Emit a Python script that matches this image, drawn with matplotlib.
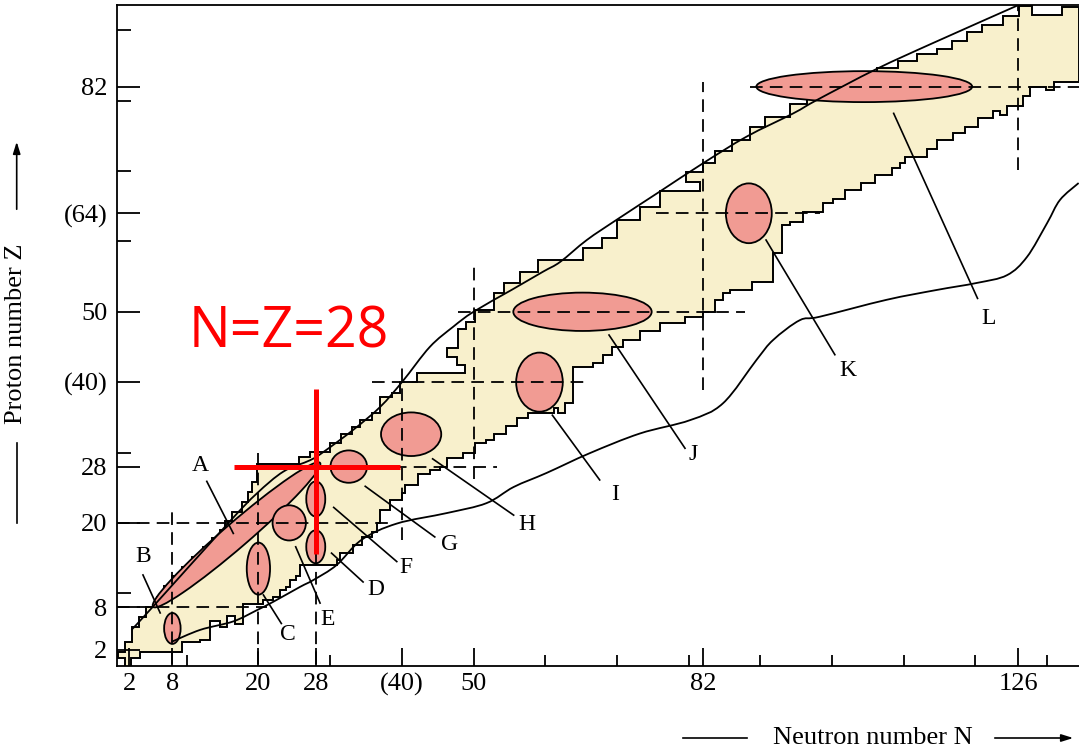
import numpy as np
import matplotlib
matplotlib.use('Agg')
import matplotlib.pyplot as plt
from matplotlib.patches import Ellipse, Polygon, PathPatch
from matplotlib.path import Path
from matplotlib.lines import Line2D

plt.rcParams['font.family'] = ['Liberation Serif', 'DejaVu Serif']

# magic numbers on the axes
x_ticks = [2, 8, 20, 28, 40, 50, 82, 126]
x_tick_labels = ['2', '8', '20', '28', '(40)', '50', '82', '126']
y_ticks = [2, 8, 20, 28, 40, 50, 64, 82]
y_tick_labels = ['2', '8', '20', '28', '(40)', '50', '(64)', '82']

# band of known nuclei: riser position N and tread height Z of each step
upper_n = [0.4, 1.4, 2.4, 3.3, 4.3, 5.8, 6.8, 7.9, 9.3, 10.8, 12.3, 13.5, 14.6, 15.4,
           16.3, 17.7, 18.5, 19.1, 19.8, 25.6, 27.2, 30.0, 31.5, 33.0, 34.2, 35.8, 37.0,
           38.7, 39.8, 42.1, 48.8, 47.7, 46.3, 47.9, 48.9, 50.2, 52.8, 54.2, 56.5, 59.0,
           65.3, 67.9, 70.0, 73.2, 76.0, 81.6, 79.6, 82.0, 83.7, 86.0, 88.6, 90.7, 94.1,
           96.5, 99.0, 101.5, 104.0, 106.3, 109.2, 111.8, 114.6, 116.7, 118.8, 120.9,
           123.9, 126.1, 127.9, 132.1]
upper_z = [1.7, 3.0, 5.2, 6.6, 8.0, 9.5, 11.0, 12.4, 13.8, 15.2, 16.6, 17.8, 19.0, 20.3,
           21.6, 23.0, 24.4, 25.8, 28.4, 29.3, 30.1, 31.3, 32.7, 33.6, 34.6, 35.6, 37.9,
           38.5, 40.0, 41.3, 42.5, 43.6, 44.8, 47.6, 48.6, 50.3, 52.6, 54.1, 55.7, 57.3,
           59.0, 60.5, 63.1, 64.9, 67.1, 68.5, 69.9, 71.1, 72.8, 74.4, 76.3, 77.7, 79.6,
           80.8, 82.0, 83.0, 83.6, 84.6, 85.7, 86.6, 87.4, 88.5, 89.7, 90.8,
           92.1, 93.4, 92.2, 93.3]
lower_n = [0.4, 1.4, 2.3, 3.5, 9.3, 11.9, 13.2, 14.6, 15.6, 16.7, 17.9, 20.7, 22.1, 23.0,
           23.9, 24.4, 25.3, 25.8, 30.9, 31.4, 33.2, 34.4, 35.8, 36.5, 37.0, 38.4, 40.0,
           40.4, 42.2, 43.9, 45.3, 46.3, 48.6, 50.2, 51.8, 52.8, 54.6, 56.0, 57.6, 61.2,
           61.8, 62.8, 63.9, 66.7, 68.1, 69.3, 70.9, 73.2, 76.0, 79.5, 82.0, 83.7, 84.8,
           85.8, 88.8, 91.8, 93.0, 94.1, 96.0, 98.8, 100.2, 101.8, 104.1, 106.0, 108.3,
           109.5, 110.2, 113.2, 114.6, 116.9, 118.5, 120.4, 122.5, 123.4, 124.4, 126.7,
           127.6, 129.9, 130.9]
lower_z = [0.75, -0.5, 0.75, 1.6, 3.1, 3.4, 6.0, 5.2, 6.7, 5.7, 8.5, 9.0, 9.5, 10.5,
           10.9, 11.9, 12.4, 14.0, 14.7, 15.7, 16.9, 18.0, 18.7, 20.0, 21.8, 23.3, 24.2,
           25.4, 27.0, 27.5, 28.0, 29.2, 29.9, 31.3, 31.8, 32.7, 33.7, 34.9, 35.6, 36.3,
           35.6, 37.0, 42.2, 42.7, 43.9, 45.0, 46.0, 47.2, 48.4, 49.3, 50.0, 51.7, 52.6,
           53.1, 54.3, 58.3, 62.3, 62.8, 64.2, 65.5, 66.1, 67.3, 68.3, 69.5, 70.4,
           71.1, 72.0, 73.2, 74.4, 75.4, 76.3, 77.5, 78.5, 78.0, 79.3, 80.6,
           82.0, 81.5, 82.6]

# drip lines
pdrip_n = [2.3, 5.3, 16.0, 19.8, 23.5, 27.2, 29.1, 33.2, 37.0, 40.1, 43.9, 47.2, 50.0,
           55.3, 59.7, 62.1, 65.8, 70.0, 76.0, 82.0, 88.1, 94.6, 97.9, 106.2, 114.1, 125.8]
pdrip_z = [4.8, 8.1, 20.2, 24.2, 27.3, 28.9, 30.1, 33.2, 36.5, 40.1, 45.0, 47.9, 50.0,
           53.1, 55.7, 57.1, 60.2, 63.1, 67.1, 71.1, 74.9, 78.2, 80.1, 84.5, 88.2, 93.5]
ndrip_n = [7.9, 11.9, 16.5, 19.8, 22.1, 25.8, 27.7, 30.9, 34.4, 39.3, 46.3, 51.8, 55.6,
           60.2, 66.2, 73.2, 80.2, 84.8, 89.5, 91.8, 95.5, 98.3, 107.6, 114.6, 120.2,
           124.4, 127.2, 130.0, 131.8, 134.4]
ndrip_z = [3.1, 4.8, 6.0, 7.6, 8.8, 10.9, 11.9, 14.0, 17.6, 19.9, 21.4, 22.8, 25.1,
           27.1, 29.9, 32.7, 34.6, 37.0, 43.2, 46.0, 48.8, 49.3, 51.7, 53.1, 54.1,
           55.2, 57.8, 62.6, 65.9, 68.3]

# marked regions
reg_names = ['A', 'B', 'C', 'D', 'E', 'F', 'G', 'H', 'I', 'J', 'K', 'L']
reg_n = [16.95, 8, 20, 28, 24.3, 28, 32.6, 41.3, 59.2, 65.2, 88.4, 104.5]
reg_z = [18.3, 5.0, 13.5, 16.6, 20, 23.4, 28, 32.6, 40, 50, 64, 82]
reg_w = [31.0, 2.3, 3.25, 2.65, 4.65, 2.65, 5.1, 8.4, 6.5, 19.3, 6.4, 30.1]
reg_h = [3.5, 4.4, 7.4, 4.7, 5.0, 5.0, 4.6, 6.2, 8.4, 5.45, 8.5, 4.4]
reg_angle = [41.3, 0, 0, 0, 0, 0, 0, 0, 0, 0, 0, 0]

# letter positions and leader lines
lab_n = [11.9, 3.9, 24.1, 36.4, 29.7, 40.6, 46.7, 57.5, 69.7, 80.6, 102.2, 121.8]
lab_z = [28.2, 15.2, 4.2, 10.5, 6.2, 13.7, 16.9, 19.8, 24.0, 29.7, 41.7, 49.1]
lead_n0 = [16.5, 6.3, 20.7, 30.2, 25.2, 30.5, 34.9, 44.3, 61.0, 68.9, 90.8, 108.6]
lead_z0 = [18.5, 7.2, 9.75, 15.7, 16.6, 22.2, 25.2, 29.1, 35.3, 46.7, 60.2, 78.2]
lead_n1 = [12.8, 3.9, 23.2, 34.6, 28.6, 39.3, 44.6, 55.6, 67.6, 79.5, 100.4, 120.3]
lead_z1 = [25.9, 12.6, 5.7, 11.6, 8.6, 14.5, 18.0, 21.1, 26.1, 30.6, 43.9, 51.9]

# dashed magic-number lines: (value, from, to)
z_lines = [(8, 0.3, 21.2), (20, 0.3, 39.0), (28, 16.7, 53.3), (40, 35.8, 66.0),
           (50, 47.9, 87.9), (64, 75.5, 98.3), (82, 88.5, 134.5)]
n_lines = [(8, 0, 21.6), (20, 0, 29.9), (28, 0, 37.0), (40, 17.5, 42.3),
           (50, 26.3, 56.4), (82, 38.9, 82.7), (126, 70.2, 93.6)]

cream = '#f8f0cc'
pink = '#f19b93'


def steps(n, z, n_end):
    verts = []
    for i in range(len(n)):
        nxt = n[i + 1] if i + 1 < len(n) else n_end
        verts.append((n[i], z[i]))
        verts.append((nxt, z[i]))
    return verts


def smooth_path(xs, ys):
    pts = np.column_stack([xs, ys])
    verts = [pts[0]]
    codes = [Path.MOVETO]
    for i in range(len(pts) - 1):
        p0 = pts[i - 1] if i > 0 else pts[i]
        p1, p2 = pts[i], pts[i + 1]
        p3 = pts[i + 2] if i + 2 < len(pts) else pts[i + 1]
        verts += [p1 + (p2 - p0) / 6, p2 - (p3 - p1) / 6, p2]
        codes += [Path.CURVE4] * 3
    return Path(verts, codes)


fig = plt.figure(figsize=(10.79, 7.48), dpi=100)
W, H = 1079, 748
ax = fig.add_axes([117.3 / W, (H - 666) / H, (W - 117.3) / W, (666 - 5) / H])
ax.set_xlim(0.32, 134.45)
ax.set_ylim(-0.34, 93.6)

band = steps(upper_n, upper_z, 134.45) + steps(lower_n, lower_z, 134.45)[::-1]
ax.add_patch(Polygon(band, closed=True, facecolor=cream, edgecolor='black',
                     lw=1.4, joinstyle='miter', zorder=1))

for name, n, z, w, h, a in zip(reg_names, reg_n, reg_z, reg_w, reg_h, reg_angle):
    ax.add_patch(Ellipse((n, z), w, h, angle=a, facecolor=pink,
                         edgecolor='black', lw=1.3, zorder=3))

dash = (0, (7, 4))
for z, n0, n1 in z_lines:
    ax.plot([n0, n1], [z, z], color='black', lw=1.3, ls=dash, zorder=4)
for n, z0, z1 in n_lines:
    ax.plot([n, n], [z0, z1], color='black', lw=1.3, ls=dash, zorder=4)

for xs, ys in [(pdrip_n, pdrip_z), (ndrip_n, ndrip_z)]:
    ax.add_patch(PathPatch(smooth_path(xs, ys), facecolor='none',
                           edgecolor='black', lw=1.3, zorder=5))

for i, name in enumerate(reg_names):
    ax.plot([lead_n0[i], lead_n1[i]], [lead_z0[i], lead_z1[i]],
            color='black', lw=1.2, zorder=5)
    ax.text(lab_n[i], lab_z[i], name, fontsize=17, ha='center', va='center', zorder=6)

# N = Z = 28 marker
ax.plot([16.6, 39.7], [28, 28], color='red', lw=3.6, solid_capstyle='butt', zorder=7)
ax.plot([28, 28], [15.6, 39.0], color='red', lw=3.6, solid_capstyle='butt', zorder=7)
ax.text(24.3, 47.0, 'N=Z=28', color='red', fontsize=40, family='Open Sans',
        ha='center', va='center', zorder=7)

ax.spines['right'].set_visible(False)
for s in ['left', 'bottom', 'top']:
    ax.spines[s].set_linewidth(1.3)
ax.set_xticks(x_ticks)
ax.set_xticklabels(x_tick_labels)
ax.set_yticks(y_ticks)
ax.set_yticklabels(y_tick_labels)
ax.set_xticks(list(range(10, 140, 10)), minor=True)
ax.set_yticks(list(range(10, 100, 10)), minor=True)
ax.tick_params(axis='x', which='major', direction='in', length=12.7, width=1.3,
               labelsize=19, pad=5)
ax.tick_params(axis='x', which='minor', direction='in', length=7.7, width=1.3)
ax.tick_params(axis='y', which='major', direction='in', length=16.3, width=1.3,
               labelsize=19, pad=7)
ax.tick_params(axis='y', which='minor', direction='in', length=10.3, width=1.3)

# axis titles with arrows
fig.text(872.5 / W, (H - 738) / H, 'Neutron number N', fontsize=19,
         ha='center', va='center')
fig.add_artist(Line2D([683 / W, 747 / W], [(H - 738) / H] * 2, color='black', lw=1.2))
ax.annotate('', xy=(1076 / W, (H - 738) / H), xytext=(992 / W, (H - 738) / H),
            xycoords='figure fraction', textcoords='figure fraction',
            arrowprops=dict(arrowstyle='-|>,head_length=0.7,head_width=0.22',
                            color='black', lw=1.2))
fig.text(16 / W, (H - 334) / H, 'Proton number Z', fontsize=19, rotation=90,
         ha='center', va='center')
fig.add_artist(Line2D([16.7 / W] * 2, [(H - 443) / H, (H - 523) / H], color='black', lw=1.2))
ax.annotate('', xy=(16.7 / W, (H - 139) / H), xytext=(16.7 / W, (H - 212) / H),
            xycoords='figure fraction', textcoords='figure fraction',
            arrowprops=dict(arrowstyle='-|>,head_length=0.7,head_width=0.22',
                            color='black', lw=1.2))

fig.savefig('out.png', dpi=100)
